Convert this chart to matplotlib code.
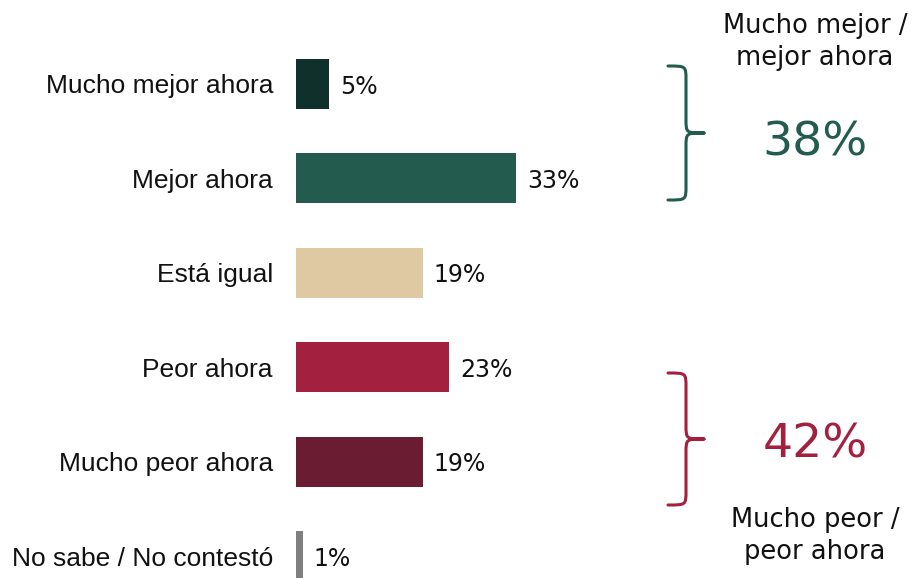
import matplotlib
matplotlib.use("Agg")
import matplotlib.pyplot as plt
from matplotlib.path import Path
from matplotlib.patches import PathPatch

categories = ["Mucho mejor ahora", "Mejor ahora", "Está igual", "Peor ahora",
              "Mucho peor ahora", "No sabe / No contestó"]
values = [5, 33, 19, 23, 19, 1]
colors = ["#10312B", "#235B4E", "#DFC9A3", "#A3203F", "#691C32", "#7F7F7F"]
value_labels = ["5%", "33%", "19%", "23%", "19%", "1%"]

group_better = "Mucho mejor /\nmejor ahora"
group_better_value = "38%"
group_worse = "Mucho peor /\npeor ahora"
group_worse_value = "42%"

W, H = 917, 578
fig = plt.figure(figsize=(W / 100, H / 100), dpi=100)
x0px = 296
pxper = 6.667
ax = fig.add_axes([x0px / W, 0, (W - x0px) / W, 1])
ax.set_xlim(0, (W - x0px) / pxper)
sp = 94.4
c0 = 84
ax.set_ylim((H - c0) / sp, -c0 / sp)
ax.axis("off")

ypos = list(range(len(categories)))
ax.barh(ypos, values, height=0.53, color=colors, clip_on=False)

num_font = ["DejaVu Sans"]
lab_font = ["Liberation Sans", "DejaVu Sans"]

for y, v, lab, cat in zip(ypos, values, value_labels, categories):
    ax.annotate(lab, (v, y), xytext=(11, 0), textcoords="offset pixels",
                ha="left", va="center_baseline", fontsize=17, family=num_font,
                color="#111111")
    ax.annotate(cat, (0, y), xytext=(-23, 0), textcoords="offset pixels",
                ha="right", va="center_baseline", fontsize=19, family=lab_font,
                color="#111111")


def brace(ax, ytop, ybot, xleft, xright, color):
    xm = (xleft + xright) / 2
    yc = (ytop + ybot) / 2
    r = 14 / sp
    verts = [
        (xleft, ytop),
        (xm, ytop), (xm, ytop), (xm, ytop + r),
        (xm, yc - r),
        (xm, yc), (xm, yc), (xright, yc),
        (xm, yc), (xm, yc), (xm, yc + r),
        (xm, ybot - r),
        (xm, ybot), (xm, ybot), (xleft, ybot),
    ]
    codes = [Path.MOVETO,
             Path.CURVE4, Path.CURVE4, Path.CURVE4,
             Path.LINETO,
             Path.CURVE4, Path.CURVE4, Path.CURVE4,
             Path.CURVE4, Path.CURVE4, Path.CURVE4,
             Path.LINETO,
             Path.CURVE4, Path.CURVE4, Path.CURVE4]
    ax.add_patch(PathPatch(Path(verts, codes), fill=False, edgecolor=color,
                           lw=2.2, capstyle="round", joinstyle="round",
                           clip_on=False))


bx0 = (668 - x0px) / pxper
bx1 = (704 - x0px) / pxper
brace(ax, (66 - c0) / sp, (200 - c0) / sp, bx0, bx1, "#235B4E")
brace(ax, (373 - c0) / sp, (505 - c0) / sp, bx0, bx1, "#A3203F")

tx = (815 - x0px) / pxper
ax.text(tx, (42 - c0) / sp, group_better, ha="center", va="center",
        fontsize=18.5, family=num_font, color="#111111", linespacing=1.32)
ax.text(tx, (138 - c0) / sp, group_better_value, ha="center", va="center_baseline",
        fontsize=34, family=num_font, color="#235B4E")
ax.text(tx, (440 - c0) / sp, group_worse_value, ha="center", va="center_baseline",
        fontsize=34, family=num_font, color="#A3203F")
ax.text(tx, (536 - c0) / sp, group_worse, ha="center", va="center",
        fontsize=18.5, family=num_font, color="#111111", linespacing=1.32)

fig.savefig("out.png", dpi=100)
